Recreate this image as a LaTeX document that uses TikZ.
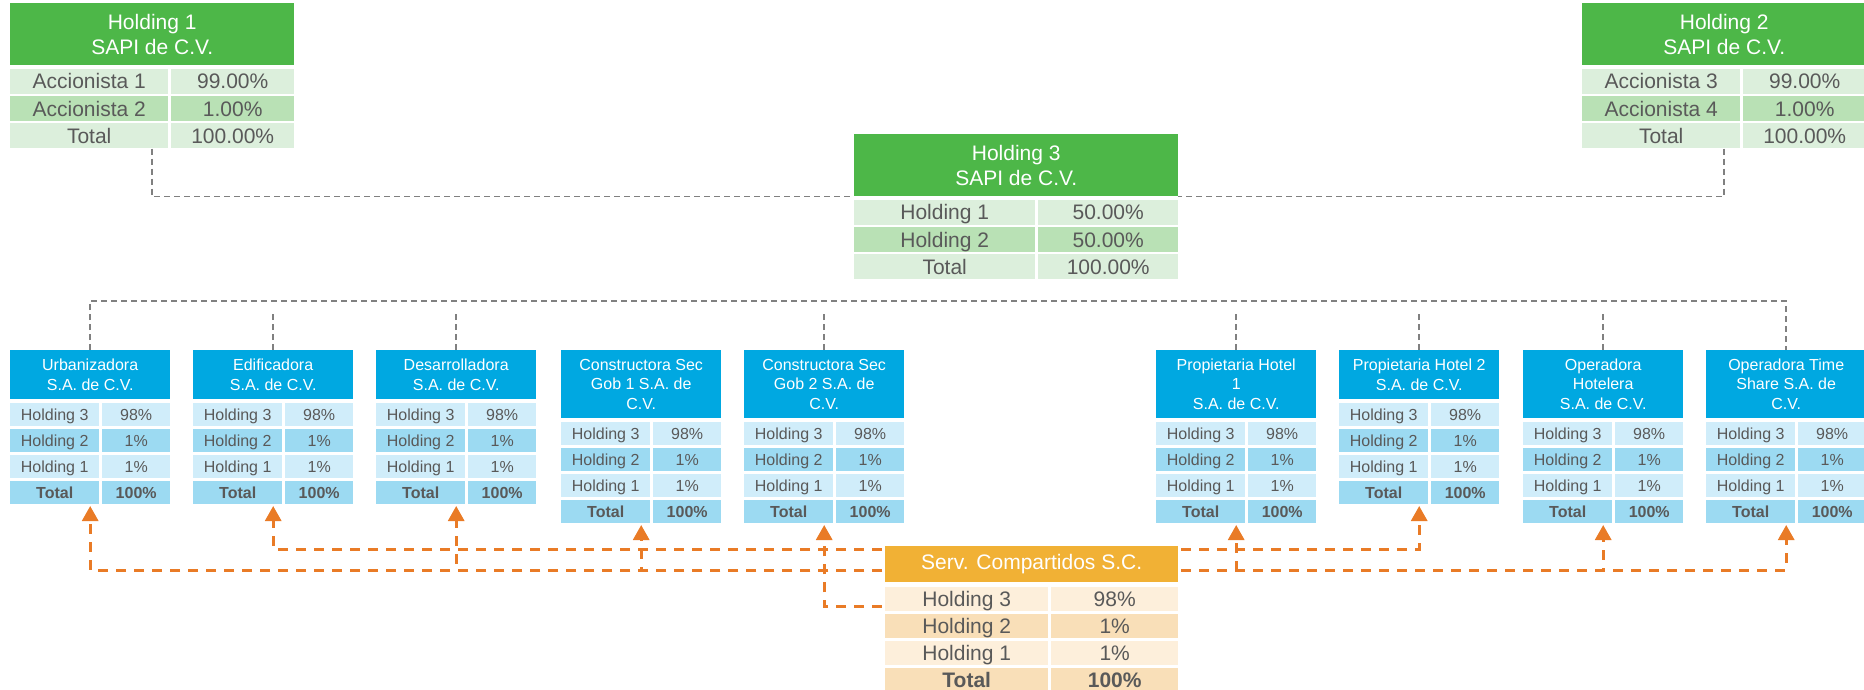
\documentclass[tikz,border=0pt]{standalone}
\usepackage{fontspec}
\setmainfont{Liberation Sans}
\usetikzlibrary{positioning,calc,arrows.meta}

\definecolor{verde}{HTML}{4DB748}
\definecolor{verdeA}{HTML}{DCEFDC}
\definecolor{verdeB}{HTML}{B9E1B5}
\definecolor{azul}{HTML}{00A8E1}
\definecolor{azulA}{HTML}{D0EDFA}
\definecolor{azulB}{HTML}{9CDAF2}
\definecolor{naranja}{HTML}{F1B135}
\definecolor{naranjaA}{HTML}{FDEFDB}
\definecolor{naranjaB}{HTML}{F9DFB8}
\definecolor{flecha}{HTML}{E97B26}
\definecolor{texto}{HTML}{595959}
\definecolor{linea}{HTML}{808080}

\tikzset{
  celda/.style={inner sep=0pt, text=texto, anchor=north west},
  encab/.style={inner sep=0pt, text=white, align=center, anchor=north west},
  grande/.style={font=\fontsize{21}{25}\selectfont},
  chica/.style={font=\fontsize{16}{19.3}\selectfont},
  celdaG/.style={celda, grande, text height=15pt, text depth=0pt},
  celdaC/.style={celda, chica, text height=11.5pt, text depth=0pt},
  liga/.style={draw=linea, line width=1.5pt, dash pattern=on 6pt off 4pt},
  flechaN/.style={draw=flecha, line width=3pt, dash pattern=on 10pt off 8pt,
    -{Triangle[width=16pt,length=15pt]}, shorten >=2pt},
}

% caja de empresa: nombre, x, alto del encabezado, texto
\newcommand{\empresa}[4]{%
  \node[encab, chica, fill=azul, minimum width=160pt, minimum height=#3] (#1) at (#2,350) {#4};
  \node[celdaC, fill=azulA, minimum width=89pt, minimum height=23pt] (#1-1a) at ($(#1.south west)+(0,3.5)$) {Holding 3};
  \node[celdaC, fill=azulA, minimum width=68pt, minimum height=23pt, anchor=north east] (#1-1b) at ($(#1.south east)+(0,3.5)$) {98\%};
  \node[celdaC, fill=azulB, minimum width=89pt, minimum height=23pt] (#1-2a) at ($(#1-1a.south west)+(0,2.5)$) {Holding 2};
  \node[celdaC, fill=azulB, minimum width=68pt, minimum height=23pt, anchor=north east] (#1-2b) at ($(#1-1b.south east)+(0,2.5)$) {1\%};
  \node[celdaC, fill=azulA, minimum width=89pt, minimum height=23pt] (#1-3a) at ($(#1-2a.south west)+(0,2.5)$) {Holding 1};
  \node[celdaC, fill=azulA, minimum width=68pt, minimum height=23pt, anchor=north east] (#1-3b) at ($(#1-2b.south east)+(0,2.5)$) {1\%};
  \node[celdaC, fill=azulB, minimum width=89pt, minimum height=23pt] (#1-4a) at ($(#1-3a.south west)+(0,2.5)$) {\textbf{Total}};
  \node[celdaC, fill=azulB, minimum width=68pt, minimum height=23pt, anchor=north east] (#1-4b) at ($(#1-3b.south east)+(0,2.5)$) {\textbf{100\%}};
}

\begin{document}
\begin{tikzpicture}[x=1pt, y=-1pt]
    \useasboundingbox (0,0) rectangle (1864,689);

    % Holding 1
    \node[encab, grande, fill=verde, minimum width=284pt, minimum height=62pt] (h1) at (10,3) {Holding 1\\SAPI de C.V.};
    \node[celdaG, fill=verdeA, minimum width=158pt, minimum height=25pt] (h1-1a) at ($(h1.south west)+(0,3)$) {Accionista 1};
    \node[celdaG, fill=verdeA, minimum width=123pt, minimum height=25pt, anchor=north east] (h1-1b) at ($(h1.south east)+(0,3)$) {99.00\%};
    \node[celdaG, fill=verdeB, minimum width=158pt, minimum height=25pt] (h1-2a) at ($(h1-1a.south west)+(0,2)$) {Accionista 2};
    \node[celdaG, fill=verdeB, minimum width=123pt, minimum height=25pt, anchor=north east] (h1-2b) at ($(h1-1b.south east)+(0,2)$) {1.00\%};
    \node[celdaG, fill=verdeA, minimum width=158pt, minimum height=25pt] (h1-3a) at ($(h1-2a.south west)+(0,2)$) {Total};
    \node[celdaG, fill=verdeA, minimum width=123pt, minimum height=25pt, anchor=north east] (h1-3b) at ($(h1-2b.south east)+(0,2)$) {100.00\%};

    % Holding 2
    \node[encab, grande, fill=verde, minimum width=284pt, minimum height=62pt] (h2) at (1582,3) {Holding 2\\SAPI de C.V.};
    \node[celdaG, fill=verdeA, minimum width=158pt, minimum height=25pt] (h2-1a) at ($(h2.south west)+(0,3)$) {Accionista 3};
    \node[celdaG, fill=verdeA, minimum width=123pt, minimum height=25pt, anchor=north east] (h2-1b) at ($(h2.south east)+(0,3)$) {99.00\%};
    \node[celdaG, fill=verdeB, minimum width=158pt, minimum height=25pt] (h2-2a) at ($(h2-1a.south west)+(0,2)$) {Accionista 4};
    \node[celdaG, fill=verdeB, minimum width=123pt, minimum height=25pt, anchor=north east] (h2-2b) at ($(h2-1b.south east)+(0,2)$) {1.00\%};
    \node[celdaG, fill=verdeA, minimum width=158pt, minimum height=25pt] (h2-3a) at ($(h2-2a.south west)+(0,2)$) {Total};
    \node[celdaG, fill=verdeA, minimum width=123pt, minimum height=25pt, anchor=north east] (h2-3b) at ($(h2-2b.south east)+(0,2)$) {100.00\%};

    % Holding 3
    \node[encab, grande, fill=verde, minimum width=324pt, minimum height=62pt] (h3) at (854,134) {Holding 3\\SAPI de C.V.};
    \node[celdaG, fill=verdeA, minimum width=181pt, minimum height=25pt] (h3-1a) at ($(h3.south west)+(0,3)$) {Holding 1};
    \node[celdaG, fill=verdeA, minimum width=140pt, minimum height=25pt, anchor=north east] (h3-1b) at ($(h3.south east)+(0,3)$) {50.00\%};
    \node[celdaG, fill=verdeB, minimum width=181pt, minimum height=25pt] (h3-2a) at ($(h3-1a.south west)+(0,2)$) {Holding 2};
    \node[celdaG, fill=verdeB, minimum width=140pt, minimum height=25pt, anchor=north east] (h3-2b) at ($(h3-1b.south east)+(0,2)$) {50.00\%};
    \node[celdaG, fill=verdeA, minimum width=181pt, minimum height=25pt] (h3-3a) at ($(h3-2a.south west)+(0,2)$) {Total};
    \node[celdaG, fill=verdeA, minimum width=140pt, minimum height=25pt, anchor=north east] (h3-3b) at ($(h3-2b.south east)+(0,2)$) {100.00\%};

    % empresas
    \empresa{urb}{10}{49pt}{Urbanizadora\\S.A. de C.V.}
    \empresa{edi}{193}{49pt}{Edificadora\\S.A. de C.V.}
    \empresa{des}{376}{49pt}{Desarrolladora\\S.A. de C.V.}
    \empresa{con1}{561}{68pt}{Constructora Sec\\Gob 1 S.A. de\\C.V.}
    \empresa{con2}{744}{68pt}{Constructora Sec\\Gob 2 S.A. de\\C.V.}
    \empresa{ph1}{1156}{68pt}{Propietaria Hotel\\1\\S.A. de C.V.}
    \empresa{ph2}{1339}{49pt}{Propietaria Hotel 2\\S.A. de C.V.}
    \empresa{oph}{1523}{68pt}{Operadora\\Hotelera\\S.A. de C.V.}
    \empresa{ots}{1706}{68pt}{Operadora Time\\Share S.A. de\\C.V.}

    % Serv. Compartidos
    \node[encab, grande, fill=naranja, minimum width=293pt, minimum height=36pt] (sc) at (885,546) {Serv. Compartidos S.C.};
    \node[celdaG, fill=naranjaA, minimum width=163pt, minimum height=24pt] (sc-1a) at ($(sc.south west)+(0,4)$) {Holding 3};
    \node[celdaG, fill=naranjaA, minimum width=127pt, minimum height=24pt, anchor=north east] (sc-1b) at ($(sc.south east)+(0,4)$) {98\%};
    \node[celdaG, fill=naranjaB, minimum width=163pt, minimum height=24pt] (sc-2a) at ($(sc-1a.south west)+(0,2.7)$) {Holding 2};
    \node[celdaG, fill=naranjaB, minimum width=127pt, minimum height=24pt, anchor=north east] (sc-2b) at ($(sc-1b.south east)+(0,2.7)$) {1\%};
    \node[celdaG, fill=naranjaA, minimum width=163pt, minimum height=24pt] (sc-3a) at ($(sc-2a.south west)+(0,2.7)$) {Holding 1};
    \node[celdaG, fill=naranjaA, minimum width=127pt, minimum height=24pt, anchor=north east] (sc-3b) at ($(sc-2b.south east)+(0,2.7)$) {1\%};
    \node[celdaG, fill=naranjaB, minimum width=163pt, minimum height=24pt] (sc-4a) at ($(sc-3a.south west)+(0,2.7)$) {\textbf{Total}};
    \node[celdaG, fill=naranjaB, minimum width=127pt, minimum height=24pt, anchor=north east] (sc-4b) at ($(sc-3b.south east)+(0,2.7)$) {\textbf{100\%}};

    % ligas de tenencia
    \draw[liga] (h1-3a.south -| h1.south) |- (h3.south west);
    \draw[liga] (h2-3a.south -| h2.south) |- (h3.south east);
    \draw[liga] (urb.north) -- ++(0,-49) -| (ots.north);
    \draw[liga] (edi.north) -- ++(0,-36);
    \draw[liga] (des.north) -- ++(0,-36);
    \draw[liga] (con2.north) -- ++(0,-36);
    \draw[liga] (ph1.north) -- ++(0,-36);
    \draw[liga] (ph2.north) -- ++(0,-36);
    \draw[liga] (oph.north) -- ++(0,-36);

    % servicios
    \draw[flechaN] ($(sc.north west)+(-3,24)$) -| (urb-4a.south -| urb.south);
    \draw[flechaN] ($(sc.north west)+(-3,3)$) -| (edi-4a.south -| edi.south);
    \draw[flechaN] ($(sc.north west)+(-3,24)$) -| (des-4a.south -| des.south);
    \draw[flechaN] ($(sc.north west)+(-3,24)$) -| (con1-4a.south -| con1.south);
    \draw[flechaN] ($(sc-1a.west)+(-3,8)$) -| (con2-4a.south -| con2.south);
    \draw[flechaN] ($(sc.north east)+(3,24)$) -| (ph1-4a.south -| ph1.south);
    \draw[flechaN] ($(sc.north east)+(3,3)$) -| (ph2-4a.south -| ph2.south);
    \draw[flechaN] ($(sc.north east)+(3,24)$) -| (oph-4a.south -| oph.south);
    \draw[flechaN] ($(sc.north east)+(3,24)$) -| (ots-4a.south -| ots.south);
\end{tikzpicture}
\end{document}
